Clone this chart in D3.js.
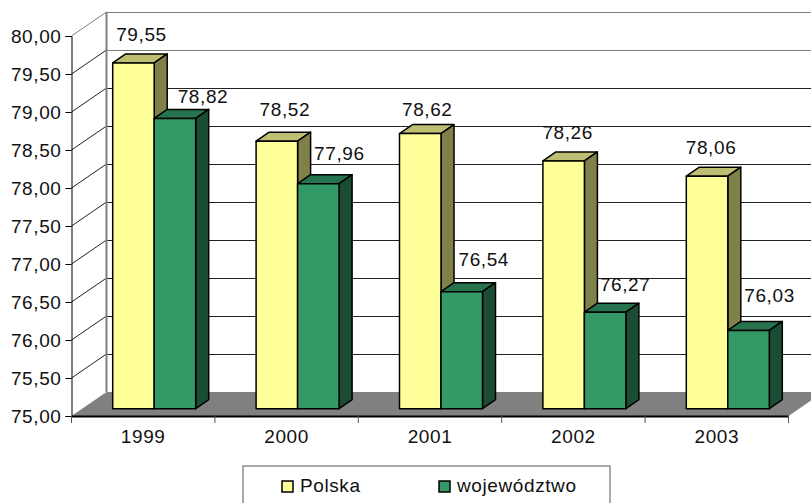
<!DOCTYPE html>
<html>
<head>
<meta charset="utf-8">
<script src="https://cdnjs.cloudflare.com/ajax/libs/d3/7.8.5/d3.min.js"></script>
<style>
  html, body { margin: 0; padding: 0; background: #fff; }
  svg { display: block; }
  text { font-family: "Liberation Sans", Arial, sans-serif; font-size: 19px; letter-spacing: 0.6px; fill: #111; }
</style>
</head>
<body>
<svg width="811" height="503"></svg>
<script>
var years = ["1999", "2000", "2001", "2002", "2003"];
var polska = [79.55, 78.52, 78.62, 78.26, 78.06];
var wojewodztwo = [78.82, 77.96, 76.54, 76.27, 76.03];
var seriesNames = ["Polska", "województwo"];
var yTicks = [75, 75.5, 76, 76.5, 77, 77.5, 78, 78.5, 79, 79.5, 80];

// hand placed nudges for the value labels, the source chart is not regular
var polskaNudge = [[8, -22], [8, -25], [7, -18], [4, -22], [4, -22]];
var wojNudge = [[28, -15], [21, -24], [22, -26], [20, -21], [21, -28]];

var colors = {
    polska: { front: "#ffff99", top: "#bfbf73", side: "#808049" },
    woj: { front: "#339966", top: "#26734d", side: "#1a4d33" }
};

var svg = d3.select("svg");

var depthX = 35, depthY = 24;      // wall depth
var barDepthX = 13, barDepthY = 9; // depth of a bar
var barOffX = 11, barOffY = 7.3;   // bars stand a bit behind the axis
var barW = 41.5;

var x = d3.scaleBand().domain(years).range([71.5, 788.5]);
var y = d3.scaleLinear().domain([75, 80]).range([416, 36]);
var fmt = function(d) { return d3.format(".2f")(d).replace(".", ","); };

// back wall grid
var gGrid = svg.append("g");
gGrid.selectAll("line")
    .data(yTicks.slice(1))
    .enter().append("line")
    .attr("x1", 71.5 + depthX).attr("x2", 811)
    .attr("y1", function(d) { return y(d) - depthY + 0.5; })
    .attr("y2", function(d) { return y(d) - depthY + 0.5; })
    .attr("stroke", function(d) { return d >= 79.5 ? "#808080" : "#222"; })
    .attr("stroke-width", 1);

// floor
svg.append("path")
    .attr("d", d3.line()([
        [x.range()[0], y(75)],
        [x.range()[0] + depthX, y(75) - depthY],
        [x.range()[1] + depthX, y(75) - depthY],
        [x.range()[1], y(75)]
    ]) + "Z")
    .attr("fill", "#808080");

// left wall
svg.selectAll("line.wall")
    .data(yTicks)
    .enter().append("line")
    .attr("class", "wall")
    .attr("x1", 71.5).attr("x2", 71.5 + depthX)
    .attr("y1", function(d) { return y(d); })
    .attr("y2", function(d) { return y(d) - depthY; })
    .attr("stroke", function(d) { return d == 80 ? "#808080" : (d == 75 ? "none" : "#222"); })
    .attr("stroke-width", 1);

svg.append("line")
    .attr("x1", 106.5).attr("x2", 106.5)
    .attr("y1", y(80) - depthY).attr("y2", y(75) - depthY)
    .attr("stroke", "#808080").attr("stroke-width", 2);

// bars
function drawBars(values, col, shift) {
    var g = svg.append("g").selectAll("g")
        .data(values)
        .enter().append("g");

    function left(d, i) { return x(years[i]) + x.bandwidth() / 2 + barOffX - barW + shift; }
    function top(d) { return y(d) - barOffY; }
    var base = y(75) - barOffY;

    g.append("path")
        .attr("d", function(d, i) {
            var l = left(d, i), t = top(d);
            return d3.line()([[l, t], [l + barDepthX, t - barDepthY], [l + barW + barDepthX, t - barDepthY], [l + barW, t]]) + "Z";
        })
        .attr("fill", col.top);

    g.append("path")
        .attr("d", function(d, i) {
            var r = left(d, i) + barW, t = top(d);
            return d3.line()([[r, t], [r + barDepthX, t - barDepthY], [r + barDepthX, base - barDepthY], [r, base]]) + "Z";
        })
        .attr("fill", col.side);

    g.append("rect")
        .attr("x", left)
        .attr("y", top)
        .attr("width", barW)
        .attr("height", function(d) { return base - top(d); })
        .attr("fill", col.front);

    g.selectAll("path, rect")
        .attr("stroke", "#000")
        .attr("stroke-width", 1.5)
        .attr("stroke-linejoin", "round");
}

drawBars(polska, colors.polska, 0);
drawBars(wojewodztwo, colors.woj, barW);

// value labels
function drawLabels(values, nudge, shift) {
    svg.append("g").selectAll("text")
        .data(values)
        .enter().append("text")
        .attr("text-anchor", "middle")
        .attr("x", function(d, i) { return x(years[i]) + x.bandwidth() / 2 + barOffX - barW / 2 + shift + nudge[i][0]; })
        .attr("y", function(d, i) { return y(d) - barOffY + nudge[i][1]; })
        .text(fmt);
}
drawLabels(polska, polskaNudge, 0);
drawLabels(wojewodztwo, wojNudge, barW);

// axes
var yAxis = d3.axisLeft(y).tickValues(yTicks).tickFormat(fmt).tickSize(6).tickPadding(4);
var gy = svg.append("g").attr("transform", "translate(71.5,0)").call(yAxis);
gy.selectAll("path, line").attr("stroke", "#000");
gy.selectAll("text").attr("fill", "#111").style("font-size", "19px").style("font-family", "Liberation Sans");

var xAxis = d3.axisBottom(x).tickSize(0).tickPadding(14);
var gx = svg.append("g").attr("transform", "translate(0,416)").call(xAxis);
gx.select("path").attr("stroke", "#000").attr("stroke-width", 2);
gx.selectAll("text").attr("fill", "#111").style("font-size", "19px").style("font-family", "Liberation Sans");

svg.append("g").selectAll("line")
    .data(d3.range(years.length + 1))
    .enter().append("line")
    .attr("x1", function(i) { return x.range()[0] + i * x.step(); })
    .attr("x2", function(i) { return x.range()[0] + i * x.step(); })
    .attr("y1", 416).attr("y2", 423)
    .attr("stroke", "#555");

// legend
svg.append("rect")
    .attr("x", 243).attr("y", 466)
    .attr("width", 367).attr("height", 50)
    .attr("fill", "#fff").attr("stroke", "#555");

var legendX = [282, 439];
var legendCols = [colors.polska.front, colors.woj.front];
var leg = svg.append("g").selectAll("g")
    .data(seriesNames)
    .enter().append("g")
    .attr("transform", function(d, i) { return "translate(" + legendX[i] + ",481)"; });
leg.append("rect")
    .attr("width", 11).attr("height", 11)
    .attr("fill", function(d, i) { return legendCols[i]; })
    .attr("stroke", "#000").attr("stroke-width", 1.5);
leg.append("text")
    .attr("x", 18).attr("y", 11)
    .text(function(d) { return d; });
</script>
</body>
</html>
